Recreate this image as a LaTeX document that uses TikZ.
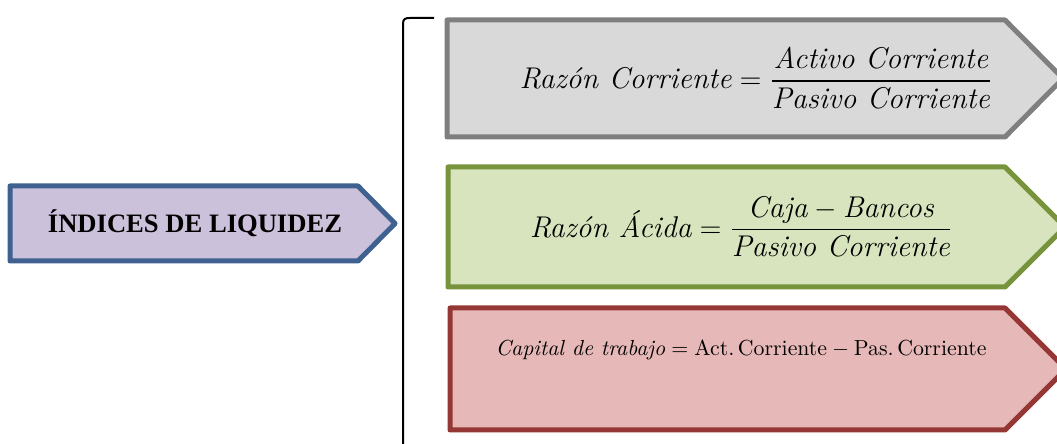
\documentclass[tikz,border=0pt]{standalone}
\usepackage{amsmath}
\usepackage{fontspec}
\newfontfamily\labfont{Liberation Serif}
\definecolor{grayF}{HTML}{D9D9D9}
\definecolor{grayB}{HTML}{7F7F7F}
\definecolor{greenF}{HTML}{D7E4BD}
\definecolor{greenB}{HTML}{77933C}
\definecolor{redF}{HTML}{E6B9B8}
\definecolor{redB}{HTML}{953735}
\definecolor{purpF}{HTML}{CCC1DA}
\definecolor{purpB}{HTML}{3E6190}
\begin{document}
\begin{tikzpicture}[x=0.5pt,y=-0.5pt,
  box/.style={line width=2.5pt, line join=round},
  lbl/.style={inner sep=0pt, anchor=center}]
\useasboundingbox (0,0) rectangle (1057,444);
\begin{scope}
\clip (0,0) rectangle (1057,444);
\draw[box, draw=grayB, fill=grayF] (447,20) -- (1005,20) -- (1063,78.5) -- (1005,137) -- (447,137) -- cycle;
\draw[box, draw=greenB, fill=greenF] (448,167) -- (1005,167) -- (1065,227) -- (1005,287) -- (448,287) -- cycle;
\draw[box, draw=redB, fill=redF] (450,308) -- (1005,308) -- (1066,369) -- (1005,430) -- (450,430) -- cycle;
\draw[box, draw=purpB, fill=purpF] (10,186) -- (358,186) -- (395,223.5) -- (358,261) -- (10,261) -- cycle;
\draw[line width=1pt] (403,444) -- (403,24) .. controls (403,19) and (405,18) .. (410,18) -- (434,18);
\end{scope}
\node[lbl] (t1) at (756,78) {\fontsize{15}{18}\selectfont $\textit{Razón Corriente} = \dfrac{\textit{Activo Corriente}}{\textit{Pasivo Corriente}}$};
\node[lbl] (t2) at (741,227) {\fontsize{15}{18}\selectfont $\textit{Razón Ácida} = \dfrac{\textit{Caja} - \textit{Bancos}}{\textit{Pasivo Corriente}}$};
\node[lbl] (t3) at (741,350) {\fontsize{10.9}{13}\selectfont $\textit{Capital de trabajo} = \text{Act.\,Corriente} - \text{Pas.\,Corriente}$};
\node[lbl] (t0) at (195,223) {\labfont\fontsize{13.3}{16}\selectfont\bfseries ÍNDICES DE LIQUIDEZ};
\end{tikzpicture}
\end{document}
